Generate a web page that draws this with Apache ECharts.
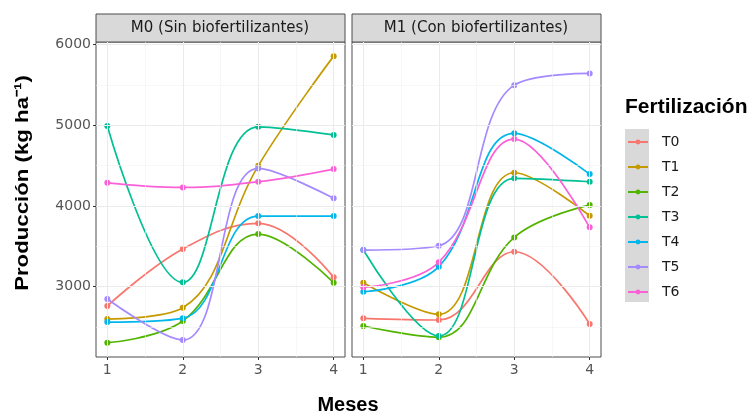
<!DOCTYPE html>
<html lang="es">
<head>
    <meta charset="UTF-8">
    <style>
        html, body { margin: 0; padding: 0; background: #fff; }
        #main { width: 755px; height: 414px; }
    </style>
    <script src="https://cdn.jsdelivr.net/npm/echarts@6/dist/echarts.min.js"></script>
    <title>Producción por mes</title>
</head>
<body>
    <div id="main"></div>
    <script>
        // datos
        var meses = [1, 2, 3, 4];
        var tratamientos = ['T0', 'T1', 'T2', 'T3', 'T4', 'T5', 'T6'];
        var paneles = ['M0 (Sin biofertilizantes)', 'M1 (Con biofertilizantes)'];
        var colores = ['#F8766D', '#C49A00', '#53B400', '#00C094', '#00B6EB', '#A58AFF', '#FB61D7'];

        var m0 = {
            T0: [2761, 3467, 3785, 3116],
            T1: [2600, 2740, 4497, 5855],
            T2: [2307, 2575, 3652, 3050],
            T3: [4990, 3054, 4980, 4880],
            T4: [2563, 2609, 3875, 3875],
            T5: [2848, 2340, 4465, 4094],
            T6: [4287, 4230, 4300, 4457]
        };
        var m1 = {
            T0: [2609, 2588, 3433, 2538],
            T1: [3050, 2658, 4411, 3879],
            T2: [2514, 2374, 3611, 4011],
            T3: [3454, 2390, 4342, 4300],
            T4: [2938, 3248, 4899, 4395],
            T5: [3454, 3507, 5496, 5641],
            T6: [2993, 3302, 4828, 3735]
        };

        var yTicks = [3000, 4000, 5000, 6000];
        var yMinor = [2500, 3500, 4500, 5500];
        var xMinor = [1.5, 2.5, 3.5];

        var myChart = echarts.init(document.getElementById('main'));
        var fuente = 'Liberation Sans, Arial, sans-serif';
        var fuenteAncha = 'DejaVu Sans, sans-serif';

        var grids = [
            { left: 96, top: 42, width: 249, height: 315, show: true, borderColor: '#4d4d4d', borderWidth: 1, backgroundColor: '#fff' },
            { left: 352, top: 42, width: 249, height: 315, show: true, borderColor: '#4d4d4d', borderWidth: 1, backgroundColor: '#fff' }
        ];

        function xAxisDe(i) {
            return {
                type: 'value', gridIndex: i, min: 0.85, max: 4.15,
                axisLine: { show: false },
                axisTick: { show: true, customValues: meses, length: 3, lineStyle: { color: '#333' } },
                axisLabel: { customValues: meses, color: '#555', fontSize: 14, fontFamily: fuenteAncha, margin: 6 },
                splitLine: { show: false }
            };
        }
        function yAxisDe(i) {
            return {
                type: 'value', gridIndex: i, min: 2130, max: 6030,
                axisLine: { show: false },
                axisTick: { show: i === 0, customValues: yTicks, length: 3, lineStyle: { color: '#333' } },
                axisLabel: {
                    show: i === 0, customValues: yTicks, color: '#555', fontSize: 14, fontFamily: fuenteAncha, margin: 5,
                    formatter: function (v) { return String(v); }
                },
                splitLine: { show: false }
            };
        }

        var series = [];
        [m0, m1].forEach(function (datos, p) {
            // lineas de la cuadricula
            var lineas = [];
            yMinor.forEach(function (v) { lineas.push({ yAxis: v, lineStyle: { color: '#f2f2f2', width: 0.6 } }); });
            xMinor.forEach(function (v) { lineas.push({ xAxis: v, lineStyle: { color: '#f2f2f2', width: 0.6 } }); });
            yTicks.forEach(function (v) { lineas.push({ yAxis: v, lineStyle: { color: '#ebebeb', width: 1 } }); });
            meses.forEach(function (v) { lineas.push({ xAxis: v, lineStyle: { color: '#ebebeb', width: 1 } }); });
            series.push({
                type: 'line', name: 'grid' + p, xAxisIndex: p, yAxisIndex: p, data: [], z: 0, silent: true,
                markLine: {
                    silent: true, symbol: 'none', animation: false,
                    label: { show: false },
                    lineStyle: { type: 'solid' },
                    data: lineas
                }
            });
            tratamientos.forEach(function (t, k) {
                series.push({
                    type: 'line', name: t, xAxisIndex: p, yAxisIndex: p,
                    smooth: 0.4, symbol: 'circle', symbolSize: 6, z: 3,
                    itemStyle: { color: colores[k], borderWidth: 0 },
                    lineStyle: { width: 1.7, color: colores[k] },
                    data: meses.map(function (m, j) { return [m, datos[t][j]]; })
                });
            });
        });

        var option = {
            animation: false,
            textStyle: { fontFamily: fuente },
            grid: grids,
            xAxis: [xAxisDe(0), xAxisDe(1)],
            yAxis: [yAxisDe(0), yAxisDe(1)],
            legend: {
                data: tratamientos,
                orient: 'vertical',
                left: 627, top: 135,
                itemWidth: 20, itemHeight: 6, itemGap: 11,
                padding: 0,
                itemStyle: { borderWidth: 0 },
                textStyle: { fontSize: 14, color: '#1a1a1a', fontFamily: fuenteAncha, padding: [0, 0, 0, 9] },
                selectedMode: false
            },
            graphic: [
                // tiras de los paneles
                { type: 'rect', shape: { x: 96, y: 14, width: 249, height: 28 }, style: { fill: '#d9d9d9', stroke: '#4d4d4d', lineWidth: 1 } },
                { type: 'rect', shape: { x: 352, y: 14, width: 249, height: 28 }, style: { fill: '#d9d9d9', stroke: '#4d4d4d', lineWidth: 1 } },
                { type: 'text', x: 220, y: 28, style: { text: paneles[0], fill: '#1a1a1a', font: '15px ' + fuenteAncha, textAlign: 'center', textVerticalAlign: 'middle' } },
                { type: 'text', x: 476, y: 28, style: { text: paneles[1], fill: '#1a1a1a', font: '15px ' + fuenteAncha, textAlign: 'center', textVerticalAlign: 'middle' } },
                // titulos de ejes
                { type: 'text', x: 23, y: 183, rotation: Math.PI / 2, scaleX: 1.17, style: { text: 'Producción (kg ha⁻¹)', fill: '#000', font: 'bold 19px ' + fuente, textAlign: 'center', textVerticalAlign: 'middle' } },
                { type: 'text', x: 348, y: 405, style: { text: 'Meses', fill: '#000', font: 'bold 20px ' + fuente, textAlign: 'center', textVerticalAlign: 'middle' } },
                // leyenda
                { type: 'text', x: 625, y: 107, scaleX: 1.05, style: { text: 'Fertilización', fill: '#000', font: 'bold 20px ' + fuente, textAlign: 'left', textVerticalAlign: 'middle' } },
                { type: 'rect', z: -1, shape: { x: 625, y: 129, width: 24, height: 173 }, style: { fill: '#d9d9d9' } }
            ],
            series: series
        };
        myChart.setOption(option);
    </script>
</body>
</html>
